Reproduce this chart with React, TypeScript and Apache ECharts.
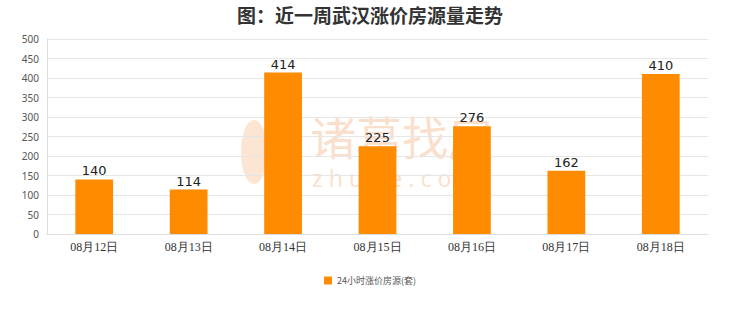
import React, { useEffect, useRef } from "react";
import * as echarts from "echarts";

const categories = ["08月12日", "08月13日", "08月14日", "08月15日", "08月16日", "08月17日", "08月18日"];
const values = [140, 114, 414, 225, 276, 162, 410];
const seriesName = "24小时涨价房源(套)";
const titleText = "图：近一周武汉涨价房源量走势";

export default function App() {
  const ref = useRef<HTMLDivElement>(null);
  useEffect(() => {
    const chart = echarts.init(ref.current!, undefined, { renderer: "svg" });
    const wm = "rgba(245,180,130,0.42)";
    chart.setOption({
      animation: false,
      backgroundColor: "#ffffff",
      title: {
        text: titleText,
        left: "center",
        top: 0,
        textStyle: { fontSize: 19, fontWeight: "bold", color: "#333", fontFamily: "Noto Sans CJK SC" },
      },
      graphic: [
        {
          type: "text",
          left: 310,
          top: 112,
          z: -1,
          style: { text: "诸葛找房", fontSize: 46, fill: wm, fontFamily: "Noto Sans CJK SC" },
        },
        {
          type: "text",
          left: 312,
          top: 166,
          z: -1,
          style: { text: "z h u g e . c o m", fontSize: 23, fill: wm, fontFamily: "Noto Sans" },
        },
        {
          type: "ellipse",
          left: 241,
          top: 120,
          z: -1,
          shape: { cx: 0, cy: 0, rx: 13, ry: 32 },
          style: { fill: "rgba(245,180,130,0.35)" },
        },
      ],
      legend: {
        bottom: 22,
        left: "center",
        itemWidth: 8,
        itemHeight: 8,
        icon: "rect",
        textStyle: { fontSize: 9, color: "#555", fontFamily: "Noto Sans CJK SC" },
        data: [seriesName],
      },
      grid: { left: 47, right: 32, top: 39, bottom: 78 },
      xAxis: {
        type: "category",
        data: categories,
        axisLine: { lineStyle: { color: "#ddd" } },
        axisTick: { show: false },
        axisLabel: { color: "#333", fontSize: 12, fontFamily: "serif", margin: 7 },
      },
      yAxis: {
        type: "value",
        min: 0,
        max: 500,
        interval: 50,
        axisLine: { show: true, lineStyle: { color: "#ddd" } },
        axisTick: { show: false },
        axisLabel: { color: "#555", fontSize: 10, fontFamily: "Noto Sans", margin: 8 },
        splitLine: { lineStyle: { color: "#e6e6e6" } },
      },
      series: [
        {
          name: seriesName,
          type: "bar",
          data: values,
          barWidth: "40%",
          itemStyle: { color: "#FF8C00" },
          label: { show: true, position: "top", fontSize: 13, color: "#222", distance: 2, fontFamily: "DejaVu Sans" },
        },
      ],
    });
    return () => chart.dispose();
  }, []);
  return <div ref={ref} style={{ position: "fixed", left: 0, top: 0, width: 740, height: 312 }} />;
}
